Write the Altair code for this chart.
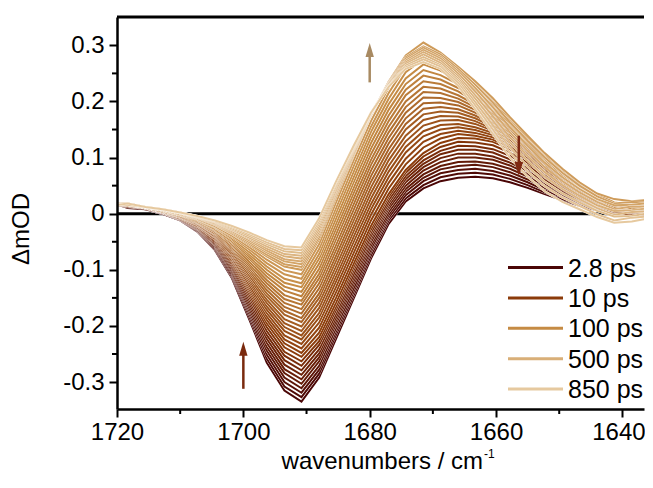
import altair as alt
import pandas as pd

# ---------------- data ----------------
wavenumbers = [1721.0, 1718.3, 1715.5, 1712.8, 1710.0, 1707.3, 1704.5, 1701.8, 1699.0, 1696.3,
               1693.5, 1690.8, 1688.0, 1685.3, 1682.5, 1679.8, 1677.0, 1674.3, 1671.5, 1668.8,
               1666.0, 1663.3, 1660.5, 1657.8, 1655.0, 1652.3, 1649.5, 1646.8, 1644.0, 1641.3,
               1638.5, 1635.8, 1633.0]

delays_ps = [2.8, 3.1, 3.5, 4.0, 4.5, 5.0, 5.5, 6.2, 7, 8.4, 10, 11.4, 13, 14.9, 17, 19.3, 22,
             25.7, 30, 34.6, 40, 46.9, 55, 64.2, 75, 86.6, 100, 122, 150, 173, 200, 245, 300,
             387, 500, 570, 650, 743, 850]

s_2p8 = [0.018, 0.012, 0.008, 0.000, -0.012, -0.032, -0.065, -0.115, -0.190, -0.265, -0.315, -0.335, -0.292, -0.222, -0.150, -0.080, -0.018, 0.022, 0.045, 0.058, 0.064, 0.066, 0.063, 0.056, 0.046, 0.035, 0.024, 0.014, 0.006, 0.000, -0.004, -0.006, -0.005]
s_3p1 = [0.020, 0.010, 0.008, 0.000, -0.012, -0.031, -0.063, -0.112, -0.185, -0.258, -0.308, -0.327, -0.285, -0.215, -0.144, -0.074, -0.012, 0.027, 0.051, 0.065, 0.071, 0.073, 0.070, 0.062, 0.051, 0.038, 0.026, 0.015, 0.006, 0.002, -0.006, -0.005, -0.004]
s_3p5 = [0.016, 0.014, 0.008, 0.001, -0.011, -0.030, -0.061, -0.109, -0.180, -0.251, -0.300, -0.319, -0.278, -0.209, -0.138, -0.068, -0.007, 0.033, 0.058, 0.072, 0.078, 0.080, 0.076, 0.068, 0.056, 0.042, 0.029, 0.017, 0.007, 0.001, -0.004, -0.005, -0.004]
s_4p0 = [0.015, 0.016, 0.009, 0.001, -0.011, -0.029, -0.059, -0.106, -0.175, -0.244, -0.292, -0.311, -0.271, -0.203, -0.132, -0.063, -0.002, 0.039, 0.064, 0.079, 0.085, 0.087, 0.083, 0.074, 0.061, 0.046, 0.032, 0.019, 0.008, 0.001, -0.002, -0.007, -0.004]
s_4p5 = [0.019, 0.013, 0.010, 0.001, -0.010, -0.028, -0.057, -0.103, -0.170, -0.237, -0.284, -0.303, -0.263, -0.196, -0.125, -0.057, 0.003, 0.044, 0.070, 0.085, 0.092, 0.093, 0.089, 0.080, 0.066, 0.050, 0.034, 0.020, 0.009, 0.001, -0.003, -0.006, -0.004]
s_5p0 = [0.018, 0.012, 0.010, 0.002, -0.010, -0.027, -0.056, -0.100, -0.165, -0.230, -0.277, -0.295, -0.256, -0.190, -0.119, -0.051, 0.009, 0.050, 0.077, 0.092, 0.100, 0.100, 0.096, 0.086, 0.071, 0.054, 0.036, 0.021, 0.010, 0.003, -0.002, -0.006, -0.003]
s_5p5 = [0.017, 0.016, 0.009, 0.002, -0.009, -0.026, -0.054, -0.097, -0.160, -0.223, -0.269, -0.287, -0.249, -0.184, -0.113, -0.045, 0.014, 0.056, 0.083, 0.099, 0.107, 0.107, 0.102, 0.091, 0.076, 0.057, 0.038, 0.022, 0.010, 0.002, -0.004, -0.005, -0.003]
s_6p2 = [0.017, 0.013, 0.010, 0.002, -0.009, -0.025, -0.052, -0.094, -0.155, -0.216, -0.261, -0.279, -0.242, -0.178, -0.107, -0.040, 0.019, 0.062, 0.089, 0.106, 0.114, 0.114, 0.109, 0.097, 0.081, 0.061, 0.041, 0.024, 0.011, 0.001, -0.005, -0.004, -0.003]
s_7 = [0.015, 0.014, 0.011, 0.002, -0.009, -0.024, -0.050, -0.091, -0.150, -0.209, -0.253, -0.271, -0.234, -0.171, -0.100, -0.034, 0.024, 0.067, 0.095, 0.112, 0.121, 0.120, 0.115, 0.103, 0.086, 0.065, 0.043, 0.025, 0.012, 0.003, -0.003, -0.004, -0.002]
s_8p4 = [0.017, 0.015, 0.010, 0.002, -0.008, -0.023, -0.048, -0.088, -0.145, -0.202, -0.246, -0.263, -0.227, -0.165, -0.094, -0.028, 0.030, 0.073, 0.102, 0.119, 0.128, 0.127, 0.122, 0.109, 0.091, 0.069, 0.046, 0.027, 0.013, 0.004, -0.001, -0.004, -0.002]
s_10 = [0.016, 0.015, 0.010, 0.002, -0.008, -0.022, -0.046, -0.085, -0.140, -0.195, -0.238, -0.255, -0.220, -0.158, -0.088, -0.022, 0.035, 0.078, 0.108, 0.126, 0.135, 0.134, 0.128, 0.115, 0.096, 0.072, 0.048, 0.028, 0.013, 0.003, -0.003, -0.004, -0.002]
s_11p4 = [0.015, 0.016, 0.010, 0.003, -0.008, -0.022, -0.045, -0.083, -0.136, -0.189, -0.231, -0.248, -0.212, -0.149, -0.079, -0.012, 0.045, 0.088, 0.118, 0.134, 0.142, 0.139, 0.132, 0.118, 0.098, 0.074, 0.050, 0.030, 0.014, 0.004, -0.003, -0.002, 0.000]
s_13 = [0.017, 0.014, 0.010, 0.003, -0.007, -0.021, -0.043, -0.080, -0.132, -0.183, -0.224, -0.240, -0.203, -0.139, -0.069, -0.002, 0.055, 0.098, 0.128, 0.142, 0.148, 0.144, 0.136, 0.121, 0.100, 0.076, 0.051, 0.031, 0.015, 0.005, 0.000, -0.001, 0.001]
s_14p9 = [0.019, 0.014, 0.010, 0.003, -0.007, -0.020, -0.042, -0.078, -0.128, -0.177, -0.217, -0.232, -0.194, -0.130, -0.059, 0.008, 0.065, 0.109, 0.138, 0.150, 0.154, 0.149, 0.140, 0.124, 0.103, 0.078, 0.053, 0.033, 0.017, 0.007, 0.003, 0.000, 0.003]
s_17 = [0.018, 0.016, 0.010, 0.003, -0.006, -0.019, -0.041, -0.075, -0.123, -0.171, -0.209, -0.224, -0.185, -0.120, -0.049, 0.017, 0.075, 0.119, 0.147, 0.158, 0.160, 0.154, 0.144, 0.126, 0.105, 0.079, 0.054, 0.034, 0.018, 0.008, 0.003, 0.002, 0.004]
s_19p3 = [0.017, 0.015, 0.011, 0.004, -0.006, -0.019, -0.040, -0.073, -0.119, -0.165, -0.202, -0.217, -0.177, -0.111, -0.040, 0.027, 0.085, 0.129, 0.157, 0.166, 0.167, 0.160, 0.148, 0.129, 0.107, 0.081, 0.056, 0.035, 0.019, 0.009, 0.006, 0.003, 0.006]
s_22 = [0.016, 0.017, 0.011, 0.003, -0.006, -0.018, -0.038, -0.070, -0.115, -0.159, -0.195, -0.209, -0.168, -0.102, -0.030, 0.037, 0.095, 0.139, 0.167, 0.174, 0.173, 0.165, 0.151, 0.132, 0.109, 0.083, 0.058, 0.036, 0.020, 0.010, 0.005, 0.006, 0.008]
s_25p7 = [0.018, 0.016, 0.011, 0.004, -0.006, -0.017, -0.037, -0.068, -0.111, -0.153, -0.188, -0.201, -0.159, -0.093, -0.021, 0.047, 0.105, 0.150, 0.177, 0.182, 0.180, 0.170, 0.155, 0.135, 0.111, 0.085, 0.060, 0.038, 0.021, 0.010, 0.002, 0.006, 0.007]
s_30 = [0.019, 0.015, 0.011, 0.004, -0.005, -0.016, -0.036, -0.065, -0.106, -0.147, -0.180, -0.193, -0.150, -0.083, -0.011, 0.057, 0.115, 0.160, 0.187, 0.190, 0.186, 0.175, 0.159, 0.138, 0.113, 0.086, 0.061, 0.039, 0.022, 0.008, 0.004, 0.006, 0.008]
s_34p6 = [0.018, 0.016, 0.011, 0.004, -0.005, -0.016, -0.035, -0.063, -0.102, -0.142, -0.173, -0.186, -0.142, -0.074, -0.002, 0.067, 0.125, 0.170, 0.197, 0.198, 0.193, 0.180, 0.163, 0.141, 0.116, 0.088, 0.063, 0.041, 0.024, 0.011, 0.004, 0.008, 0.009]
s_40 = [0.018, 0.016, 0.011, 0.004, -0.004, -0.015, -0.033, -0.061, -0.098, -0.136, -0.166, -0.178, -0.133, -0.064, 0.008, 0.077, 0.135, 0.180, 0.207, 0.206, 0.199, 0.185, 0.167, 0.144, 0.118, 0.090, 0.064, 0.042, 0.025, 0.010, 0.006, 0.008, 0.010]
s_46p9 = [0.019, 0.016, 0.011, 0.004, -0.004, -0.015, -0.032, -0.059, -0.094, -0.130, -0.159, -0.170, -0.124, -0.055, 0.018, 0.087, 0.145, 0.190, 0.217, 0.215, 0.205, 0.190, 0.171, 0.147, 0.120, 0.092, 0.066, 0.044, 0.026, 0.013, 0.005, 0.009, 0.010]
s_55 = [0.017, 0.017, 0.011, 0.004, -0.003, -0.014, -0.030, -0.056, -0.090, -0.124, -0.152, -0.162, -0.115, -0.045, 0.028, 0.096, 0.155, 0.200, 0.226, 0.223, 0.211, 0.195, 0.175, 0.149, 0.122, 0.094, 0.067, 0.045, 0.027, 0.012, 0.008, 0.010, 0.012]
s_64p2 = [0.017, 0.017, 0.012, 0.005, -0.003, -0.013, -0.029, -0.054, -0.086, -0.118, -0.145, -0.155, -0.107, -0.036, 0.038, 0.106, 0.165, 0.211, 0.236, 0.231, 0.218, 0.200, 0.179, 0.152, 0.124, 0.096, 0.069, 0.047, 0.028, 0.015, 0.010, 0.010, 0.014]
s_75 = [0.020, 0.015, 0.012, 0.005, -0.002, -0.012, -0.028, -0.051, -0.081, -0.112, -0.137, -0.147, -0.098, -0.026, 0.047, 0.116, 0.175, 0.221, 0.246, 0.239, 0.224, 0.205, 0.183, 0.155, 0.126, 0.097, 0.070, 0.048, 0.029, 0.014, 0.010, 0.012, 0.015]
s_86p6 = [0.019, 0.016, 0.012, 0.005, -0.002, -0.012, -0.027, -0.049, -0.077, -0.106, -0.130, -0.139, -0.089, -0.017, 0.057, 0.126, 0.185, 0.231, 0.256, 0.247, 0.231, 0.211, 0.187, 0.158, 0.128, 0.099, 0.072, 0.049, 0.030, 0.017, 0.009, 0.014, 0.016]
s_100 = [0.018, 0.017, 0.011, 0.005, -0.002, -0.011, -0.025, -0.046, -0.073, -0.100, -0.123, -0.131, -0.080, -0.008, 0.066, 0.136, 0.195, 0.241, 0.266, 0.255, 0.237, 0.216, 0.190, 0.161, 0.130, 0.101, 0.074, 0.050, 0.031, 0.016, 0.012, 0.015, 0.018]
s_122 = [0.017, 0.018, 0.011, 0.006, -0.002, -0.010, -0.024, -0.044, -0.069, -0.094, -0.116, -0.124, -0.072, 0.002, 0.076, 0.146, 0.205, 0.252, 0.276, 0.263, 0.243, 0.221, 0.194, 0.164, 0.133, 0.103, 0.076, 0.052, 0.033, 0.019, 0.012, 0.017, 0.019]
s_150 = [0.019, 0.018, 0.012, 0.006, -0.001, -0.009, -0.023, -0.041, -0.064, -0.088, -0.108, -0.116, -0.063, 0.011, 0.086, 0.155, 0.215, 0.262, 0.285, 0.271, 0.249, 0.226, 0.198, 0.166, 0.135, 0.104, 0.077, 0.053, 0.034, 0.018, 0.015, 0.018, 0.021]
s_173 = [0.020, 0.017, 0.012, 0.006, -0.001, -0.009, -0.022, -0.039, -0.060, -0.082, -0.101, -0.108, -0.054, 0.021, 0.096, 0.165, 0.225, 0.272, 0.292, 0.279, 0.256, 0.231, 0.202, 0.169, 0.137, 0.106, 0.079, 0.055, 0.035, 0.020, 0.016, 0.020, 0.023]
s_200 = [0.020, 0.016, 0.012, 0.006, 0.000, -0.008, -0.020, -0.036, -0.056, -0.076, -0.094, -0.100, -0.045, 0.030, 0.105, 0.175, 0.235, 0.282, 0.305, 0.287, 0.262, 0.236, 0.206, 0.172, 0.139, 0.108, 0.080, 0.056, 0.036, 0.026, 0.022, 0.025, 0.028]
s_245 = [0.018, 0.017, 0.012, 0.007, 0.001, -0.008, -0.019, -0.035, -0.054, -0.073, -0.090, -0.095, -0.041, 0.034, 0.107, 0.176, 0.234, 0.279, 0.298, 0.284, 0.258, 0.230, 0.198, 0.163, 0.130, 0.100, 0.073, 0.050, 0.031, 0.018, 0.021, 0.020, 0.024]
s_300 = [0.017, 0.018, 0.012, 0.007, 0.001, -0.007, -0.018, -0.033, -0.051, -0.069, -0.085, -0.090, -0.036, 0.037, 0.109, 0.176, 0.233, 0.276, 0.296, 0.280, 0.254, 0.224, 0.190, 0.154, 0.121, 0.091, 0.065, 0.044, 0.026, 0.015, 0.016, 0.019, 0.021]
s_387 = [0.016, 0.018, 0.012, 0.007, 0.001, -0.007, -0.017, -0.031, -0.048, -0.066, -0.081, -0.085, -0.032, 0.041, 0.112, 0.177, 0.232, 0.273, 0.292, 0.277, 0.250, 0.218, 0.182, 0.145, 0.112, 0.083, 0.058, 0.038, 0.021, 0.008, 0.013, 0.012, 0.017]
s_500 = [0.016, 0.017, 0.012, 0.007, 0.001, -0.006, -0.016, -0.029, -0.045, -0.062, -0.076, -0.080, -0.027, 0.044, 0.114, 0.178, 0.231, 0.270, 0.288, 0.273, 0.245, 0.211, 0.174, 0.136, 0.103, 0.074, 0.051, 0.032, 0.015, 0.005, 0.006, 0.010, 0.013]
s_570 = [0.015, 0.017, 0.012, 0.008, 0.002, -0.006, -0.015, -0.028, -0.043, -0.058, -0.072, -0.075, -0.022, 0.048, 0.116, 0.179, 0.230, 0.267, 0.284, 0.269, 0.241, 0.205, 0.166, 0.127, 0.094, 0.066, 0.044, 0.026, 0.010, -0.002, 0.003, 0.004, 0.009]
s_650 = [0.016, 0.016, 0.012, 0.008, 0.002, -0.005, -0.014, -0.026, -0.040, -0.054, -0.067, -0.070, -0.017, 0.051, 0.118, 0.179, 0.228, 0.264, 0.279, 0.265, 0.237, 0.199, 0.158, 0.118, 0.084, 0.057, 0.036, 0.020, 0.005, -0.005, -0.004, 0.001, 0.005]
s_743 = [0.016, 0.016, 0.012, 0.008, 0.002, -0.005, -0.013, -0.024, -0.037, -0.051, -0.063, -0.065, -0.013, 0.055, 0.120, 0.180, 0.227, 0.261, 0.275, 0.262, 0.233, 0.193, 0.150, 0.109, 0.075, 0.049, 0.029, 0.014, -0.001, -0.012, -0.007, -0.005, 0.001]
s_850 = [0.014, 0.018, 0.012, 0.008, 0.002, -0.004, -0.012, -0.022, -0.034, -0.047, -0.058, -0.060, -0.008, 0.058, 0.122, 0.180, 0.226, 0.258, 0.270, 0.258, 0.228, 0.186, 0.142, 0.100, 0.066, 0.040, 0.021, 0.008, -0.006, -0.016, -0.014, -0.008, -0.004]

spectra = [s_2p8, s_3p1, s_3p5, s_4p0, s_4p5, s_5p0, s_5p5, s_6p2, s_7, s_8p4, s_10, s_11p4,
           s_13, s_14p9, s_17, s_19p3, s_22, s_25p7, s_30, s_34p6, s_40, s_46p9, s_55, s_64p2,
           s_75, s_86p6, s_100, s_122, s_150, s_173, s_200, s_245, s_300, s_387, s_500, s_570,
           s_650, s_743, s_850]

legend_labels = ["2.8 ps", "10 ps", "100 ps", "500 ps", "850 ps"]
legend_delays = [2.8, 10, 100, 500, 850]
legend_colors = ["#4a0606", "#8b3b0a", "#c58b44", "#d9af78", "#e6c99f"]

x_major = [1720, 1700, 1680, 1660, 1640]
x_minor = [1710, 1690, 1670, 1650]
y_major = [-0.3, -0.2, -0.1, 0.0, 0.1, 0.2, 0.3]
y_minor = [-0.25, -0.15, -0.05, 0.05, 0.15, 0.25]

arrow_x = [1700.0, 1680.0, 1656.4]
arrow_tail = [-0.312, 0.234, 0.139]
arrow_tip = [-0.228, 0.304, 0.067]
arrow_colors = ["#7a2a0e", "#a88a62", "#7e2812"]

# ---------------- layout / style ----------------
# whole chart kept at 637 x 466 px so that the page never overflows the 653x488 window
W, H = 527, 392
PAD = {"left": 109, "top": 9, "right": 1, "bottom": 65}
FONT = "Liberation Sans"
FS_TICK = 24
FS_TITLE = 24
FS_LEG = 25

xs = alt.Scale(domain=[1720, 1636.58], nice=False, zero=False)
ys = alt.Scale(domain=[-0.348, 0.3505], nice=False, zero=False)
cs = alt.Scale(type="log", domain=legend_delays, range=legend_colors, interpolate="rgb")

xaxis = alt.Axis(values=x_major, title=None, grid=False, format="d",
                 labelFont=FONT, labelFontSize=FS_TICK, labelColor="black", labelPadding=3,
                 labelFlush=False, labelOverlap=False,
                 labelOffset={"condition": {"test": "datum.value == 1640", "value": -4}, "value": 0},
                 domainColor="black", domainWidth=2.5, tickColor="black", tickWidth=2,
                 tickSize=8, zindex=1)
yaxis = alt.Axis(values=y_major, title=None, grid=False,
                 labelExpr="datum.value == 0 ? '0' : (datum.value < 0 ? '-' : '') + format(abs(datum.value), '.1f')",
                 labelFont=FONT, labelFontSize=FS_TICK, labelColor="black", labelPadding=5,
                 labelFlush=False, labelOverlap=False,
                 domainColor="black", domainWidth=2.5, tickColor="black", tickWidth=2,
                 tickSize=8, zindex=1)


def X(field="wn"):
    return alt.X(f"{field}:Q", scale=xs, axis=xaxis)


def Y(field="dA"):
    return alt.Y(f"{field}:Q", scale=ys, axis=yaxis)


layers = []

# zero line
layers.append(
    alt.Chart(pd.DataFrame({"dA": [0.0]})).mark_rule(color="black", strokeWidth=3)
    .encode(y=Y(), x=alt.value(0), x2=alt.value(W))
)
# top frame
layers.append(
    alt.Chart(pd.DataFrame({"dA": [0.0]})).mark_rule(color="black", strokeWidth=3)
    .encode(x=alt.value(0), x2=alt.value(W), y=alt.value(0))
)

# spectra (thin white halo underneath each coloured line)
for t, vals in zip(delays_ps, spectra):
    d = pd.DataFrame({"wn": wavenumbers, "dA": vals, "t": t})
    base = alt.Chart(d).encode(x=X(), y=Y())
    layers.append(base.mark_line(color="white", strokeWidth=2.5, clip=True))
    layers.append(base.mark_line(strokeWidth=2, clip=True)
                  .encode(color=alt.Color("t:Q", scale=cs, legend=None)))

# minor ticks
layers.append(
    alt.Chart(pd.DataFrame({"wn": x_minor})).mark_rule(color="black", strokeWidth=2)
    .encode(x=X(), y=alt.value(H), y2=alt.value(H + 5))
)
layers.append(
    alt.Chart(pd.DataFrame({"dA": y_minor})).mark_rule(color="black", strokeWidth=2)
    .encode(y=Y(), x=alt.value(0), x2=alt.value(-5))
)

# arrows
PATH_UP = "M0,-1L0.6,1L-0.6,1Z"
PATH_DOWN = "M0,1L0.6,-1L-0.6,-1Z"
for ax_, y0, y1, c in zip(arrow_x, arrow_tail, arrow_tip, arrow_colors):
    up = y1 > y0
    d = pd.DataFrame({"wn": [ax_], "dA": [y0], "tip": [y1]})
    layers.append(
        alt.Chart(d).mark_rule(color=c, strokeWidth=2.5, y2Offset=12 if up else -12)
        .encode(x=X(), y=Y(), y2="tip:Q")
    )
    layers.append(
        alt.Chart(d).mark_point(shape=PATH_UP if up else PATH_DOWN, filled=True, size=196,
                                color=c, opacity=1, strokeWidth=0,
                                yOffset=7 if up else -7)
        .encode(x=X(), y=Y("tip"))
    )

# legend (drawn by hand)
for i, (lab, col) in enumerate(zip(legend_labels, legend_colors)):
    yy = 250.5 + 30.4 * i
    d = pd.DataFrame({"label": [lab]})
    layers.append(
        alt.Chart(d).mark_rule(color=col, strokeWidth=3)
        .encode(x=alt.value(391), x2=alt.value(446), y=alt.value(yy))
    )
    layers.append(
        alt.Chart(d).mark_text(align="left", baseline="middle", font=FONT, fontSize=FS_LEG, color="black")
        .encode(text="label:N", x=alt.value(451), y=alt.value(yy + 1))
    )

# axis titles
layers.append(
    alt.Chart(pd.DataFrame({"s": ["\u0394mOD"]}))
    .mark_text(angle=270, align="center", baseline="middle", font=FONT, fontSize=FS_TITLE, color="black")
    .encode(text="s:N", x=alt.value(-95.5), y=alt.value(212))
)
layers.append(
    alt.Chart(pd.DataFrame({"s": ["wavenumbers / cm"]}))
    .mark_text(align="right", baseline="alphabetic", font=FONT, fontSize=FS_TITLE, color="black")
    .encode(text="s:N", x=alt.value(366), y=alt.value(451.5))
)
layers.append(
    alt.Chart(pd.DataFrame({"s": ["-1"]}))
    .mark_text(align="left", baseline="alphabetic", font=FONT, fontSize=12, color="black")
    .encode(text="s:N", x=alt.value(367), y=alt.value(441))
)

chart = (
    alt.layer(*layers)
    .properties(width=W, height=H, padding=PAD,
                autosize=alt.AutoSizeParams(type="none"),
                background="white")
    .configure_view(stroke=None)
)

chart.save("out.html", embed_options={"renderer": "svg", "actions": False})
